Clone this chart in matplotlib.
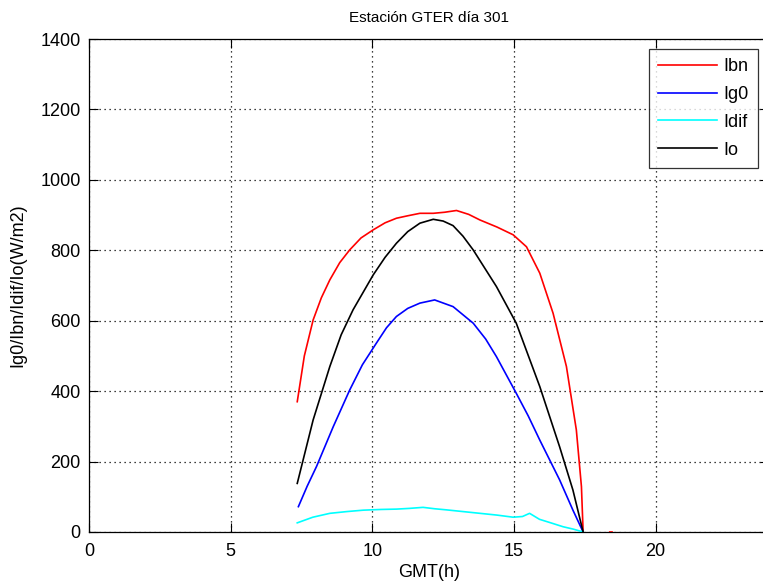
import matplotlib
matplotlib.use("Agg")
import matplotlib.pyplot as plt
import numpy as np

plt.rcParams['font.family'] = ['Liberation Sans', 'DejaVu Sans']

# Data
t_ibn = [7.35, 7.6, 7.91, 8.2, 8.5, 8.85, 9.2, 9.6, 10.03, 10.45, 10.85, 11.25, 11.68, 12.15, 12.55, 12.97, 13.4, 13.8, 14.4, 14.97, 15.44, 15.91, 16.38, 16.85, 17.2, 17.38, 17.44, np.nan, 18.38, 18.46]
v_ibn = [370, 500, 602, 665, 716, 765, 801, 835, 858, 878, 891, 898, 905, 905, 908, 913, 902, 886, 866, 844, 810, 735, 621, 470, 290, 129, 0, np.nan, 0, 0]

t_ig0 = [7.39, 7.7, 8.03, 8.62, 9.2, 9.65, 10.14, 10.5, 10.85, 11.25, 11.68, 12.2, 12.85, 13.56, 14.0, 14.38, 15.08, 15.5, 15.91, 16.61, 17.08, 17.44]
v_ig0 = [72, 130, 186, 299, 403, 475, 536, 580, 612, 635, 650, 659, 640, 593, 548, 498, 394, 330, 261, 148, 62, 0]

t_idif = [7.35, 7.9, 8.5, 9.1, 9.68, 10.3, 10.85, 11.3, 11.79, 12.2, 12.6, 13.2, 13.8, 14.4, 14.97, 15.3, 15.55, 15.9, 16.3, 16.73, 17.1, 17.44]
v_idif = [26, 42, 53, 58, 62, 64, 65, 67, 70, 66, 63, 58, 53, 48, 42, 44, 53, 36, 26, 15, 8, 0]

t_io = [7.35, 7.91, 8.5, 8.9, 9.32, 10.03, 10.45, 10.85, 11.25, 11.68, 12.15, 12.5, 12.85, 13.2, 13.56, 14.38, 15.08, 15.91, 16.61, 17.08, 17.44]
v_io = [138, 318, 470, 560, 631, 730, 780, 820, 853, 877, 888, 883, 870, 840, 801, 697, 593, 413, 242, 119, 0]

labels = ['Ibn', 'Ig0', 'Idif', 'Io']
colors = ['red', 'blue', 'cyan', 'black']

fig = plt.figure(figsize=(7.63, 5.85), dpi=100)
ax = fig.add_axes([89/763, 53/585, (769-89)/763, (532-39)/585])

series = [(t_ibn, v_ibn), (t_ig0, v_ig0), (t_idif, v_idif), (t_io, v_io)]
for (t, v), lab, c in zip(series, labels, colors):
    ax.plot(t, v, color=c, lw=1.2, label=lab, zorder=3)

ax.set_xlim(0, 24)
ax.set_ylim(0, 1400)
ax.set_xticks([0, 5, 10, 15, 20])
ax.set_yticks(range(0, 1401, 200))
ax.tick_params(direction='in', top=True, right=True, labelsize=13, length=6.5, width=0.8)
ax.tick_params(axis='x', pad=8)
ax.tick_params(axis='y', pad=6)
ax.grid(True, color='black', linestyle=(0, (1, 3)), linewidth=0.9)
for s in ax.spines.values():
    s.set_linewidth(0.9)

ax.set_title('Estación GTER día 301', fontsize=11, pad=12)
ax.set_xlabel('GMT(h)', fontsize=13, labelpad=3)
ax.set_ylabel('Ig0/Ibn/Idif/Io(W/m2)', fontsize=13, labelpad=10)

leg = ax.legend(loc='upper right', bbox_to_anchor=((758-89)/680, (532-49)/493), fontsize=13,
                frameon=True, fancybox=False, edgecolor='black', handlelength=3.3,
                borderpad=0.5, labelspacing=0.6, handletextpad=0.35, borderaxespad=0)
leg.get_frame().set_linewidth(0.9)
leg.set_zorder(5)

fig.savefig('out.png', dpi=100)
